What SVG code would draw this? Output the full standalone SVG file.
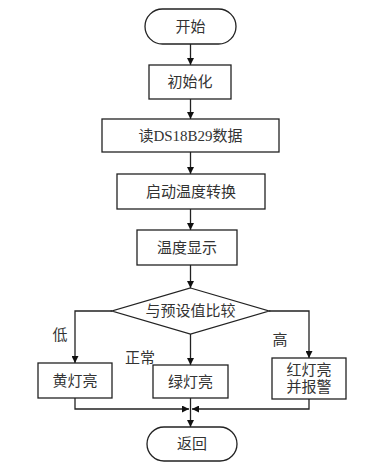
<svg xmlns="http://www.w3.org/2000/svg" width="375" height="472" viewBox="0 0 375 472">
<style>
.s{fill:#fff;stroke:#222;stroke-width:1.3}
.t{font-family:"Liberation Serif","Noto Sans CJK SC",serif;font-size:15px;fill:#333;text-anchor:middle;dominant-baseline:central}
.c{fill:none;stroke:#222;stroke-width:1.3}
</style>
<defs>
<marker id="a" viewBox="0 0 10 10" refX="10" refY="5" markerWidth="7" markerHeight="7" markerUnits="userSpaceOnUse" orient="auto">
<path d="M0,0 L10,5 L0,10 z" fill="#111"/>
</marker>
</defs>
<rect width="375" height="472" fill="#fff"/>
<g id="connectors">
<line class="c" x1="190.5" y1="44" x2="190.5" y2="65" marker-end="url(#a)"/>
<line class="c" x1="190.5" y1="99" x2="190.5" y2="119" marker-end="url(#a)"/>
<line class="c" x1="190.5" y1="152" x2="190.5" y2="174" marker-end="url(#a)"/>
<line class="c" x1="190.5" y1="209" x2="190.5" y2="230" marker-end="url(#a)"/>
<line class="c" x1="190.5" y1="265" x2="190.5" y2="288" marker-end="url(#a)"/>
<polyline class="c" points="112,311 75,311 75,363" marker-end="url(#a)"/>
<line class="c" x1="190.5" y1="334" x2="190.5" y2="365" marker-end="url(#a)"/>
<polyline class="c" points="269,311 309,311 309,358" marker-end="url(#a)"/>
<polyline class="c" points="75,398 75,409 189,409" marker-end="url(#a)"/>
<polyline class="c" points="309,399 309,409 192,409" marker-end="url(#a)"/>
<line class="c" x1="190.5" y1="398" x2="190.5" y2="427" marker-end="url(#a)"/>
<text class="t" x="60" y="335">低</text>
<text class="t" x="140" y="358">正常</text>
<text class="t" x="280" y="340">高</text>
</g>
<g id="start"><rect class="s" x="145" y="9" width="91" height="35" rx="17.5"/><text class="t" x="190.5" y="27">开始</text></g>
<g id="init"><rect class="s" x="149" y="65" width="82" height="34"/><text class="t" x="190" y="82">初始化</text></g>
<g id="read"><rect class="s" x="102" y="119" width="177" height="33"/><text class="t" x="190.5" y="135.5">读DS18B29数据</text></g>
<g id="convert"><rect class="s" x="117" y="174" width="148" height="35"/><text class="t" x="191" y="191.5">启动温度转换</text></g>
<g id="display"><rect class="s" x="137" y="230" width="100" height="35"/><text class="t" x="187" y="247.5">温度显示</text></g>
<g id="compare"><polygon class="s" points="190.5,288 269,311 190.5,334 112,311"/><text class="t" x="190.5" y="311">与预设值比较</text></g>
<g id="yellow"><rect class="s" x="38" y="363" width="74" height="35"/><text class="t" x="75" y="380.5">黄灯亮</text></g>
<g id="green"><rect class="s" x="153" y="365" width="75" height="33"/><text class="t" x="190.5" y="381.5">绿灯亮</text></g>
<g id="red"><rect class="s" x="272" y="358" width="74" height="41"/><text class="t" x="309" y="370">红灯亮</text><text class="t" x="309" y="387">并报警</text></g>
<g id="end"><rect class="s" x="147" y="427" width="90" height="34" rx="17"/><text class="t" x="192" y="444">返回</text></g>
</svg>
